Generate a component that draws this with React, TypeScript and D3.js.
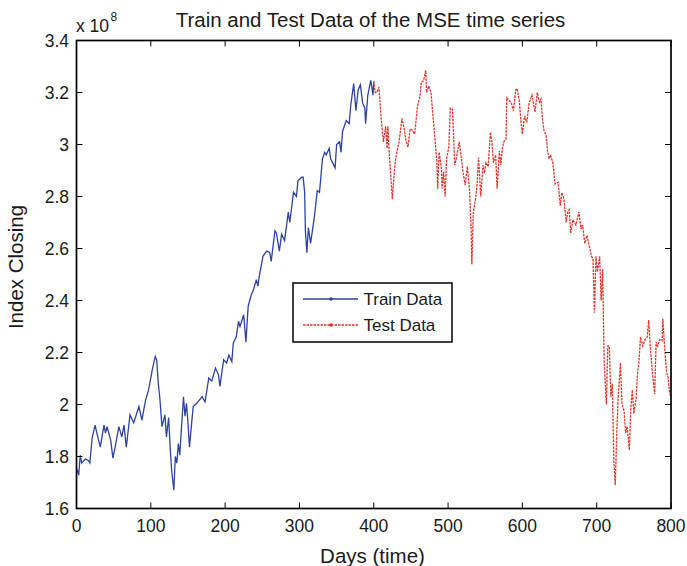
import React from "react";
import * as d3 from "d3";

const trainDays = [0,1,3,5,7,12,16,18,21,25,27,32,37,39,41,46,49,52,57,61,64,67,72,77,84,88,93,97,102,106,108,110,112,115,119,121,124,126,128,131,133,135,137,139,141,144,146,148,150,152,157,162,169,173,178,182,187,191,193,198,202,205,209,211,215,218,220,225,228,231,235,238,242,244,246,251,256,260,262,267,269,273,276,280,285,287,292,296,298,303,305,307,308,310,312,315,320,324,327,331,334,336,340,342,348,350,354,356,358,363,367,369,373,376,379,382,385,388,389,392,396,399,400];
const trainValues = [1.75,1.748,1.728,1.805,1.775,1.79,1.785,1.775,1.871,1.921,1.895,1.836,1.921,1.89,1.915,1.863,1.794,1.836,1.915,1.875,1.921,1.836,1.96,1.93,1.992,1.94,2.018,2.056,2.134,2.185,2.17,2.083,2.03,1.915,1.96,1.875,1.95,1.836,1.748,1.67,1.8,1.775,1.85,1.805,1.9,2.03,1.955,2.005,1.93,1.836,1.992,2.005,2.03,2.01,2.102,2.09,2.14,2.115,2.07,2.172,2.16,2.19,2.165,2.237,2.26,2.32,2.30,2.345,2.24,2.378,2.42,2.44,2.48,2.455,2.494,2.571,2.59,2.585,2.55,2.668,2.66,2.59,2.655,2.63,2.74,2.70,2.816,2.80,2.86,2.874,2.874,2.816,2.668,2.584,2.68,2.62,2.72,2.822,2.816,2.945,2.97,2.96,2.985,2.945,2.91,3.0,3.01,2.97,3.05,3.092,3.08,3.15,3.234,3.13,3.21,3.23,3.16,3.14,3.08,3.19,3.247,3.19,3.24];

const testDays = [400,402,404,407,410,413,416,418,419,421,425,428,431,434,438,441,443,446,449,452,455,459,462,464,467,470,471,474,477,482,485,486,488,491,492,494,496,498,501,503,506,509,511,515,518,520,523,526,529,531,532,534,537,539,541,544,547,549,551,554,557,559,561,564,566,569,571,573,575,578,579,582,585,588,591,593,596,598,600,603,606,609,613,617,620,623,625,627,629,632,634,636,638,641,644,648,651,653,656,659,661,663,665,668,672,676,679,681,684,687,690,693,695,697,699,701,704,706,708,710,713,715,717,719,721,723,725,727,729,732,734,737,739,741,744,746,748,750,753,755,757,759,762,765,768,770,772,775,778,780,782,785,788,789,791,794,796,798,800];
const testValues = [3.245,3.20,3.20,3.22,3.10,3.01,3.07,2.985,3.07,2.96,2.79,2.91,2.97,3.01,3.10,3.06,3.02,2.99,3.06,3.055,3.04,3.15,3.18,3.24,3.245,3.285,3.20,3.225,3.20,3.034,2.93,2.83,2.97,2.91,2.83,2.895,2.80,2.945,2.99,3.14,3.135,2.92,2.945,3.01,2.945,2.895,2.845,2.915,2.82,2.675,2.539,2.74,2.79,2.845,2.95,2.80,2.92,2.89,2.93,2.915,3.047,3.01,2.93,2.96,2.83,2.975,2.92,2.985,3.01,3.02,3.18,3.17,3.16,3.13,3.21,3.215,3.165,3.09,3.04,3.11,3.085,3.16,3.19,3.125,3.20,3.163,3.175,3.10,3.055,3.034,2.97,2.945,2.96,2.93,2.848,2.855,2.765,2.815,2.79,2.70,2.74,2.75,2.66,2.71,2.69,2.74,2.675,2.69,2.62,2.65,2.61,2.57,2.56,2.353,2.57,2.51,2.57,2.40,2.52,2.17,2.0,2.225,2.225,2.03,2.08,1.79,1.69,1.89,2.03,2.16,2.005,1.97,1.89,1.915,1.825,1.99,2.056,1.965,2.02,2.12,2.17,2.26,2.225,2.25,2.26,2.325,2.225,2.12,2.04,2.24,2.225,2.25,2.245,2.33,2.24,2.125,2.105,2.045,2.03];

const xTicks = [0,100,200,300,400,500,600,700,800];
const yTicks = [1.6,1.8,2.0,2.2,2.4,2.6,2.8,3.0,3.2,3.4];
const yTickLabels = ["1.6","1.8","2","2.2","2.4","2.6","2.8","3","3.2","3.4"];

const W = 687, H = 566;
const L = 76.5, R = 671, T = 40.5, B = 508.5;
const FONT = "'Liberation Sans', Arial, Helvetica, sans-serif";
const TXT = "#1a1a1a";

export default function App() {
  const x = d3.scaleLinear().domain([0, 800]).range([L, R]);
  const y = d3.scaleLinear().domain([1.6, 3.4]).range([B, T]);
  const gen = d3.line<[number, number]>().x(d => x(d[0])).y(d => y(d[1]));
  const trainPath = gen(trainDays.map((d, i) => [d, trainValues[i]] as [number, number]));
  const testPath = gen(testDays.map((d, i) => [d, testValues[i]] as [number, number]));
  const blue = "#2d42a3";
  const red = "#e2342b";
  const tl = 6;
  return (
    <svg width={W} height={H} style={{ position: "absolute", left: 0, top: 0 }} fontFamily={FONT}>
      <rect x={0} y={0} width={W} height={H} fill="#fff" />
      <defs>
        <clipPath id="plot"><rect x={L} y={T} width={R - L} height={B - T} /></clipPath>
      </defs>
      <g clipPath="url(#plot)">
        <path d={trainPath || ""} fill="none" stroke={blue} strokeWidth={1.3} />
        <path d={testPath || ""} fill="none" stroke={red} strokeWidth={1.3} strokeDasharray="2.5,1" />
      </g>
      <rect x={L} y={T} width={R - L} height={B - T} fill="none" stroke="#000" strokeWidth={1.7} />
      {xTicks.map(t => (
        <g key={"x" + t}>
          <line x1={x(t)} x2={x(t)} y1={B} y2={B - tl} stroke="#000" strokeWidth={1} />
          <line x1={x(t)} x2={x(t)} y1={T} y2={T + tl} stroke="#000" strokeWidth={1} />
          <text x={x(t)} y={532} textAnchor="middle" fontSize={17.5} fill={TXT}>{t}</text>
        </g>
      ))}
      {yTicks.map((t, i) => (
        <g key={"y" + t}>
          <line x1={L} x2={L + tl} y1={y(t)} y2={y(t)} stroke="#000" strokeWidth={1} />
          <line x1={R} x2={R - tl} y1={y(t)} y2={y(t)} stroke="#000" strokeWidth={1} />
          <text x={69} y={y(t) + 6} textAnchor="end" fontSize={17.5} fill={TXT}>{yTickLabels[i]}</text>
        </g>
      ))}
      <text x={76} y={31.5} fontSize={17.5} fill={TXT}>x 10</text>
      <text x={110.5} y={20.5} fontSize={12} fill={TXT}>8</text>
      <text x={370.5} y={26.5} textAnchor="middle" fontSize={20.5} fill={TXT}>Train and Test Data of the MSE time series</text>
      <text x={372.5} y={563} textAnchor="middle" fontSize={20.5} fill={TXT}>Days (time)</text>
      <text transform={`translate(23, 267) rotate(-90)`} textAnchor="middle" fontSize={20.5} fill={TXT}>Index Closing</text>
      <rect x={293} y={283} width={159} height={59} fill="#fff" stroke="#000" strokeWidth={1.5} />
      <line x1={303} x2={358} y1={299} y2={299} stroke={blue} strokeWidth={1.3} />
      <circle cx={331} cy={299} r={1.8} fill={blue} />
      <text x={363.5} y={305} fontSize={17} fill={TXT}>Train Data</text>
      <line x1={303} x2={358} y1={325} y2={325} stroke={red} strokeWidth={1.3} strokeDasharray="2.5,1" />
      <circle cx={331} cy={325} r={1.8} fill={red} />
      <text x={363.5} y={331} fontSize={17} fill={TXT}>Test Data</text>
    </svg>
  );
}
